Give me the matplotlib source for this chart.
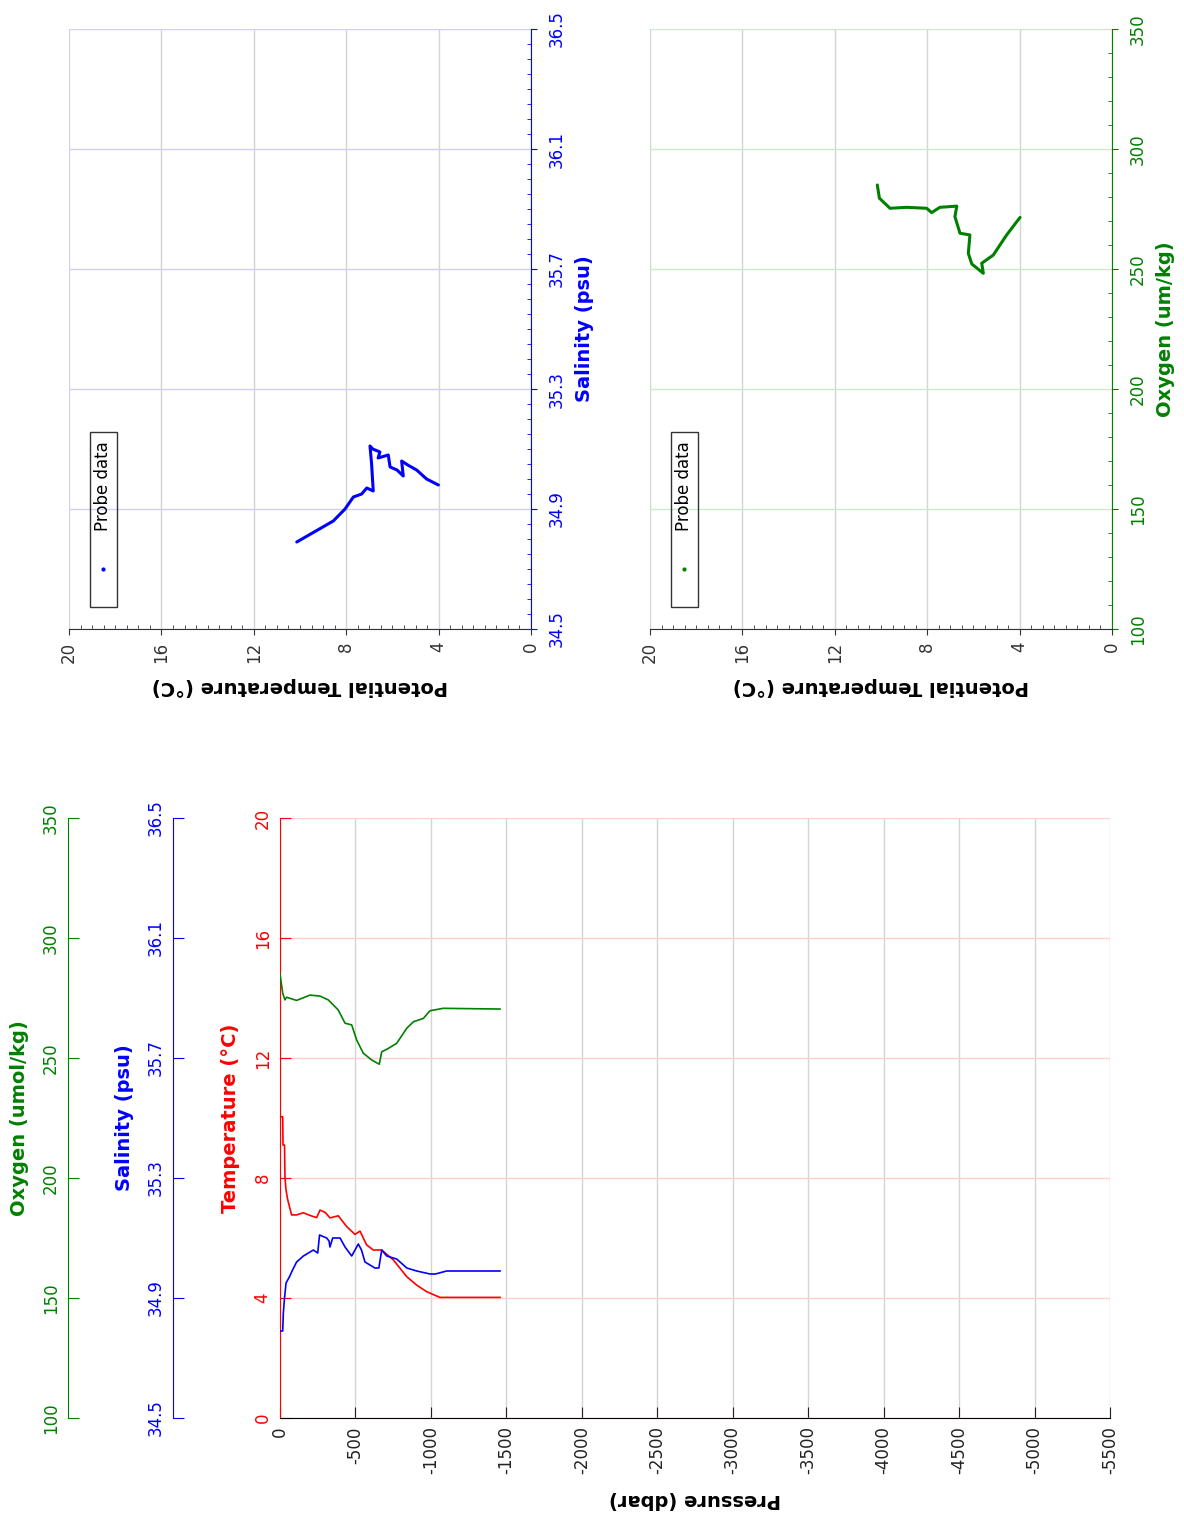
import matplotlib
matplotlib.use('Agg')
import matplotlib.pyplot as plt
from matplotlib.ticker import FixedLocator, MultipleLocator
from matplotlib.patches import Rectangle

plt.rcParams['font.family'] = ['DejaVu Sans']

# ---------------- data ----------------
# vertical profile: temperature
p_temp = [0, -18, -20, -30, -33, -40, -50, -65, -77, -110, -155, -200, -243, -265,
          -300, -331, -386, -442, -497, -530, -574, -618, -674, -751, -840, -906,
          -972, -1060, -1200, -1458]
temp = [10.04, 10.04, 9.1, 9.1, 8.0, 7.6, 7.3, 7.0, 6.77, 6.77, 6.84, 6.75, 6.68, 6.93,
        6.85, 6.67, 6.74, 6.38, 6.12, 6.23, 5.77, 5.6, 5.6, 5.27, 4.71, 4.43,
        4.21, 4.02, 4.02, 4.02]

# vertical profile: salinity
p_sal = [0, -18, -22, -30, -40, -62, -80, -110, -155, -221, -250, -262, -309, -325,
         -331, -349, -398, -431, -475, -519, -540, -563, -629, -655, -674, -707,
         -773, -840, -906, -994, -1030, -1104, -1458]
sal = [34.79, 34.79, 34.85, 34.90, 34.95, 34.97, 34.99, 35.02, 35.04, 35.06, 35.05, 35.11, 35.10, 35.09,
       35.07, 35.10, 35.10, 35.07, 35.04, 35.08, 35.06, 35.02, 35.00, 35.00, 35.06, 35.04,
       35.03, 35.00, 34.99, 34.98, 34.98, 34.99, 34.99]

# vertical profile: oxygen
p_oxy = [0, -4, -18, -33, -44, -110, -199, -265, -320, -386, -431, -475, -508, -552,
         -607, -658, -674, -707, -773, -840, -884, -950, -994, -1082, -1458]
oxy = [285, 283.2, 277, 274.2, 275.3, 274, 276.2, 275.8, 274.2, 270, 264.5, 263.8, 257.5, 252,
       249.2, 247.4, 252.6, 253.6, 256.1, 262.4, 265.1, 266.5, 269.7, 270.7, 270.4]

# theta-salinity diagram
theta_ts = [10.14, 8.56, 8.05, 7.69, 7.33, 7.11, 6.83, 6.9, 6.97, 6.85, 6.54, 6.62,
            6.18, 6.1, 5.8, 5.53, 5.6, 5.3, 4.95, 4.52, 4.01]
sal_ts = [34.79, 34.86, 34.90, 34.94, 34.95, 34.97, 34.96, 35.05, 35.11, 35.10, 35.09, 35.07,
          35.08, 35.04, 35.03, 35.01, 35.06, 35.045, 35.03, 35.00, 34.98]

# theta-oxygen diagram
theta_to = [10.16, 10.07, 9.61, 8.89, 8.02, 7.81, 7.45, 6.72, 6.8, 6.58, 6.15, 6.22,
            6.07, 5.57, 5.64, 5.14, 4.56, 3.98]
oxy_to = [285, 279.5, 275.3, 275.7, 275.3, 273.5, 275.7, 276.2, 271.8, 264.9, 264.2, 256.5,
          252.1, 248.2, 252.4, 255.8, 264.2, 271.5]

# axes ticks
pressure_ticks = [0, -500, -1000, -1500, -2000, -2500, -3000, -3500, -4000, -4500, -5000, -5500]
temp_ticks = [0, 4, 8, 12, 16, 20]
sal_ticks = [34.5, 34.9, 35.3, 35.7, 36.1, 36.5]
oxy_ticks = [100, 150, 200, 250, 300, 350]
theta_ticks = [20, 16, 12, 8, 4, 0]

legend_label = 'Probe data'

# ---------------- style ----------------
RED = '#ff0000'
BLUE = '#0000ff'
GREEN = '#008000'
GRID_GREY = '#d4d4d4'
TICK_FS = 12
LABEL_FS = 14

W, H = 1184, 1517
fig = plt.figure(figsize=(W / 100, H / 100), dpi=100)


def rect(x0, y0, x1, y1):
    return [x0 / W, 1 - y1 / H, (x1 - x0) / W, (y1 - y0) / H]


def center_labels(labels):
    for t in labels:
        t.set_va('center')


# ---------------- profile panel ----------------
ax = fig.add_axes(rect(280, 818, 1110, 1418))
ax.plot(p_temp, temp, color=RED, lw=1.2)
ax.set_xlim(0, -5500)
ax.set_ylim(0, 20)
ax.xaxis.set_major_locator(FixedLocator(pressure_ticks))
ax.yaxis.set_major_locator(FixedLocator(temp_ticks))
ax.set_xticklabels([str(v) for v in pressure_ticks])
ax.set_yticklabels([str(v) for v in temp_ticks])
ax.xaxis.grid(True, color=GRID_GREY, lw=1)
ax.yaxis.grid(True, color='#ffd0d0', lw=1)
ax.set_axisbelow(True)
for s in ['top', 'right']:
    ax.spines[s].set_visible(False)
ax.spines['left'].set_color(RED)
ax.spines['bottom'].set_color('black')
ax.tick_params(axis='both', direction='in', length=8, labelsize=TICK_FS)
ax.tick_params(axis='x', labelrotation=90, colors='#222222', pad=6)
ax.tick_params(axis='y', labelrotation=90, colors=RED, pad=6)
center_labels(ax.get_yticklabels())
ax.set_xlabel('Pressure (dbar)', rotation=180, fontsize=LABEL_FS, fontweight='bold', labelpad=11)
ax.set_ylabel('Temperature (°C)', color=RED, fontsize=LABEL_FS, fontweight='bold', labelpad=10)


def extra_axis(offset_px, values_p, values, color, ylim, ticks, label):
    a = ax.twinx()
    a.plot(values_p, values, color=color, lw=1.2)
    a.set_ylim(*ylim)
    for s in ['top', 'right', 'bottom']:
        a.spines[s].set_visible(False)
    a.spines['left'].set_visible(True)
    a.spines['left'].set_position(('axes', -offset_px / 830))
    a.spines['left'].set_color(color)
    a.yaxis.set_ticks_position('left')
    a.yaxis.set_label_position('left')
    a.yaxis.set_major_locator(FixedLocator(ticks))
    a.set_yticklabels([f'{v:g}' if isinstance(v, int) else f'{v:.1f}' for v in ticks])
    a.tick_params(axis='y', direction='in', length=8, labelsize=TICK_FS,
                  labelrotation=90, colors=color, pad=6)
    center_labels(a.get_yticklabels())
    a.set_ylabel(label, color=color, fontsize=LABEL_FS, fontweight='bold', labelpad=9)
    return a


extra_axis(107, p_sal, sal, BLUE, (34.5, 36.5), sal_ticks, 'Salinity (psu)')
extra_axis(212, p_oxy, oxy, GREEN, (100, 350), oxy_ticks, 'Oxygen (umol/kg)')


# ---------------- property-property panels ----------------
def pp_panel(r, xs, ys, color, gridcolor, ylim, yticks, yminor, ylabel, fmt):
    a = fig.add_axes(r)
    a.plot(xs, ys, color=color, lw=2.2, solid_capstyle='round', solid_joinstyle='round')
    a.set_xlim(20, 0)
    a.set_ylim(*ylim)
    a.xaxis.set_major_locator(FixedLocator(theta_ticks))
    a.xaxis.set_minor_locator(MultipleLocator(0.5))
    a.yaxis.set_major_locator(FixedLocator(yticks))
    a.yaxis.set_minor_locator(MultipleLocator(yminor))
    a.set_xticklabels([str(v) for v in theta_ticks])
    a.set_yticklabels([fmt.format(v) for v in yticks])
    a.yaxis.tick_right()
    a.yaxis.set_label_position('right')
    a.xaxis.grid(True, which='major', color=GRID_GREY, lw=1)
    a.yaxis.grid(True, which='major', color=gridcolor, lw=1)
    a.set_axisbelow(True)
    for s in ['top', 'left']:
        a.spines[s].set_visible(False)
    a.spines['right'].set_color(color)
    a.spines['bottom'].set_color('#333333')
    a.tick_params(axis='both', which='major', direction='out', length=4, labelsize=TICK_FS)
    a.tick_params(axis='both', which='minor', direction='in', length=3)
    a.tick_params(axis='x', which='both', colors='#333333')
    a.tick_params(axis='x', which='major', labelrotation=90, pad=5)
    a.tick_params(axis='y', which='both', colors=color)
    a.tick_params(axis='y', which='major', labelrotation=90, pad=8)
    center_labels(a.get_yticklabels())
    a.set_xlabel('Potential Temperature (°C)', rotation=180, fontsize=LABEL_FS,
                 fontweight='bold', labelpad=10)
    a.set_ylabel(ylabel, color=color, fontsize=LABEL_FS, fontweight='bold', labelpad=7)
    # legend drawn with rotated text
    a.add_patch(Rectangle((0.0455, 0.0367), 0.0585, 0.2913, transform=a.transAxes,
                          fill=False, ec='#333333', lw=1, zorder=5))
    a.plot([0.0736], [0.1], 'o', ms=2, color=color, transform=a.transAxes, zorder=6)
    a.text(0.0736, 0.238, legend_label, rotation=90, ha='center', va='center',
           fontsize=TICK_FS, transform=a.transAxes, zorder=6)
    return a


pp_panel(rect(69, 29, 531, 629), theta_ts, sal_ts, BLUE, '#d0d0ff', (34.5, 36.5), sal_ticks,
         0.05, 'Salinity (psu)', '{:.1f}')
pp_panel(rect(650, 29, 1112, 629), theta_to, oxy_to, GREEN, '#cfe8cf', (100, 350), oxy_ticks,
         10, 'Oxygen (um/kg)', '{:d}')

fig.savefig('out.png', dpi=100)
